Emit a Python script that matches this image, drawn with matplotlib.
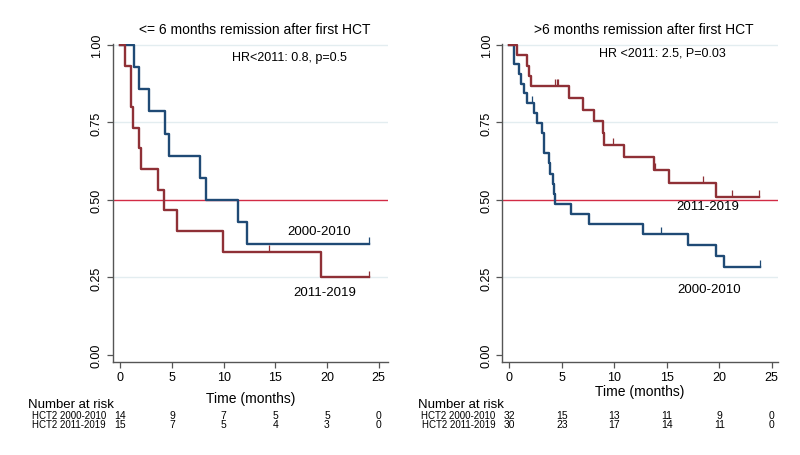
import matplotlib
matplotlib.use("Agg")
import matplotlib.pyplot as plt

plt.rcParams['font.family'] = ['Liberation Sans', 'DejaVu Sans']

# Left panel: <= 6 months remission
lb_t = [0, 1.36, 1.82, 2.78, 4.30, 4.72, 7.66, 8.30, 11.40, 12.30, 24.1]
lb_s = [1.0, 0.929, 0.857, 0.786, 0.714, 0.643, 0.571, 0.500, 0.429, 0.357, 0.357]
lb_cens_t = [24.1]
lb_cens_s = [0.357]

lr_t = [0, 0.46, 1.0, 1.26, 1.78, 2.0, 3.68, 4.23, 5.5, 9.92, 19.4, 24.1]
lr_s = [1.0, 0.933, 0.8, 0.733, 0.667, 0.6, 0.533, 0.467, 0.4, 0.333, 0.25, 0.25]
lr_cens_t = [14.35, 24.1]
lr_cens_s = [0.333, 0.25]

# Right panel: > 6 months remission
rb_t = [0, 0.40, 0.89, 1.08, 1.43, 1.72, 2.38, 2.67, 3.08, 3.31, 3.78, 3.91,
        4.13, 4.26, 4.39, 5.88, 7.62, 12.71, 17.06, 19.70, 20.49, 23.9]
rb_s = [1.0, 0.938, 0.906, 0.875, 0.844, 0.813, 0.780, 0.748, 0.715, 0.650,
        0.618, 0.585, 0.553, 0.520, 0.488, 0.455, 0.423, 0.390, 0.355, 0.319,
        0.284, 0.284]
rb_cens_t = [2.2, 14.45, 23.9]
rb_cens_s = [0.813, 0.390, 0.284]

rr_t = [0, 0.70, 1.72, 1.85, 2.07, 5.72, 7.05, 8.10, 8.90, 8.99, 10.93,
        13.79, 15.25, 19.70, 23.8]
rr_s = [1.0, 0.967, 0.933, 0.900, 0.867, 0.829, 0.791, 0.754, 0.716, 0.678,
        0.638, 0.598, 0.555, 0.509, 0.509]
rr_cens_t = [4.36, 4.5, 4.65, 9.85, 13.85, 18.49, 21.19, 23.8]
rr_cens_s = [0.867, 0.867, 0.867, 0.678, 0.598, 0.555, 0.509, 0.509]

# number at risk
risk_times = [0, 5, 10, 15, 20, 25]
left_risk_b = [14, 9, 7, 5, 5, 0]
left_risk_r = [15, 7, 5, 4, 3, 0]
right_risk_b = [32, 15, 13, 11, 9, 0]
right_risk_r = [30, 23, 17, 14, 11, 0]

blue = '#1f4a75'
red = '#8f3036'
ref_red = '#d22b45'
grid_col = '#e3edf0'

fig = plt.figure(figsize=(8, 4.56), dpi=100)
W, H = 800, 456


def make_ax(x0, x1, y_top, y_bot):
    return fig.add_axes([x0 / W, (H - y_bot) / H, (x1 - x0) / W, (y_bot - y_top) / H])


def km_panel(ax, xlim, title, hr_text, hr_pos, b, r, lab_b, lab_r, risk_b, risk_r, xlab_pad):
    ax.set_xlim(*xlim)
    ax.set_ylim(-0.0226, 1.003)
    for g in [0.25, 0.75, 1.0]:
        ax.axhline(g, color=grid_col, lw=1.0, zorder=0)
    ax.axhline(0.5, color=ref_red, lw=1.0, zorder=1)
    # curves
    ax.step(b[0], b[1], where='post', color=blue, lw=1.7, zorder=3)
    ax.step(r[0], r[1], where='post', color=red, lw=1.7, zorder=3)
    ax.vlines(b[2], b[3], [v + 0.022 for v in b[3]], color=blue, lw=0.9, zorder=3)
    ax.vlines(r[2], r[3], [v + 0.022 for v in r[3]], color=red, lw=0.9, zorder=3)

    for sp in ['top', 'right']:
        ax.spines[sp].set_visible(False)
    for sp in ['left', 'bottom']:
        ax.spines[sp].set_color('#555555')
        ax.spines[sp].set_linewidth(1.0)
    ax.set_xticks([0, 5, 10, 15, 20, 25])
    ax.set_yticks([0, 0.25, 0.5, 0.75, 1.0])
    ax.set_yticklabels(['0.00', '0.25', '0.50', '0.75', '1.00'], rotation=90, va='center')
    ax.tick_params(axis='both', labelsize=9, length=4, width=0.9, color='#555555', pad=3)
    ax.tick_params(axis='x', pad=2.5)
    ax.set_xlabel('Time (months)', fontsize=10, labelpad=xlab_pad)

    ax.text(0.515, 1.047, title, transform=ax.transAxes, ha='center', va='center', fontsize=10)
    ax.text(hr_pos[0], hr_pos[1], hr_text, ha='left', va='center', fontsize=9)
    ax.text(lab_b[0], lab_b[1], '2000-2010', ha='center', va='center', fontsize=9.5)
    ax.text(lab_r[0], lab_r[1], '2011-2019', ha='center', va='center', fontsize=9.5)

    # number at risk table
    tr = ax.get_xaxis_transform()
    ax.text(-0.307, -0.132, 'Number at risk', transform=ax.transAxes, ha='left', va='center', fontsize=9.5)
    ax.text(-0.024, -0.167, 'HCT2 2000-2010', transform=ax.transAxes, ha='right', va='center', fontsize=7)
    ax.text(-0.024, -0.195, 'HCT2 2011-2019', transform=ax.transAxes, ha='right', va='center', fontsize=7)
    for t, nb, nr in zip(risk_times, risk_b, risk_r):
        ax.text(t, -0.167, str(nb), transform=tr, ha='center', va='center', fontsize=7.5)
        ax.text(t, -0.195, str(nr), transform=tr, ha='center', va='center', fontsize=7.5)


ax1 = make_ax(112.7, 388, 45, 363)
km_panel(ax1, (-0.74, 25.9), '<= 6 months remission after first HCT',
         'HR<2011: 0.8, p=0.5', (10.8, 0.961),
         (lb_t, lb_s, lb_cens_t, lb_cens_s), (lr_t, lr_s, lr_cens_t, lr_cens_s),
         (19.26, 0.399), (19.74, 0.202), left_risk_b, left_risk_r, 6)

ax2 = make_ax(502.3, 778, 45, 363)
km_panel(ax2, (-0.67, 25.6), '>6 months remission after first HCT',
         'HR <2011: 2.5, P=0.03', (8.58, 0.974),
         (rb_t, rb_s, rb_cens_t, rb_cens_s), (rr_t, rr_s, rr_cens_t, rr_cens_s),
         (19.07, 0.214), (18.93, 0.479), right_risk_b, right_risk_r, 1)

fig.savefig('out.png', dpi=100, facecolor='white')
